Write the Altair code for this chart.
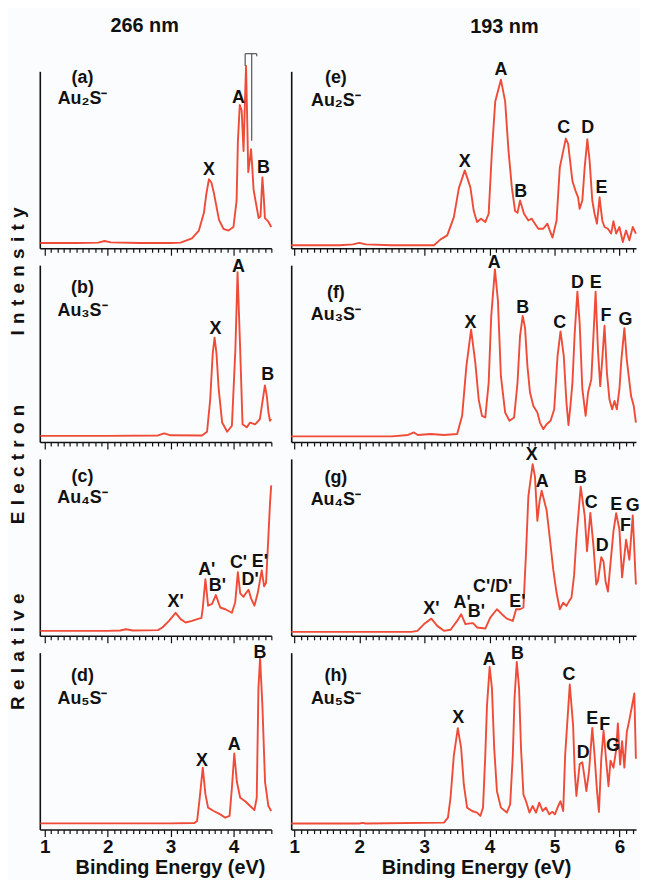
import altair as alt
import pandas as pd

FONT = "Liberation Sans"
LINE_COLOR = "#ef4b37"
INK = "#111111"

# ---------------- spectra (binding energy eV, relative intensity) ----------------
A_E = [0.93, 1.5, 1.85, 1.95, 2.05, 2.5, 3.0, 3.16, 3.34, 3.45, 3.53, 3.57, 3.61, 3.65, 3.69, 3.77, 3.84, 3.92, 4.00, 4.05,
       4.07, 4.10, 4.13, 4.16, 4.18, 4.20, 4.22, 4.235, 4.26, 4.28, 4.30, 4.32, 4.35, 4.40, 4.43, 4.45, 4.46, 4.48, 4.50, 4.555, 4.60]
A_I = [0.03, 0.03, 0.032, 0.041, 0.033, 0.03, 0.03, 0.032, 0.056, 0.10, 0.20, 0.31, 0.39, 0.37, 0.31, 0.16, 0.11, 0.10, 0.12, 0.27,
       0.60, 0.81, 0.78, 0.55, 0.80, 1.03, 0.70, 0.43, 0.50, 0.56, 0.45, 0.33, 0.27, 0.17, 0.18, 0.33, 0.40, 0.30, 0.17, 0.15, 0.12]

B_E = [0.93, 2.0, 2.8, 2.9, 3.0, 3.5, 3.58, 3.63, 3.67, 3.70, 3.73, 3.765, 3.82, 3.90, 3.975, 4.03, 4.065, 4.107, 4.144, 4.21,
       4.265, 4.344, 4.42, 4.47, 4.50, 4.53, 4.555, 4.58, 4.60]
B_I = [0.035, 0.035, 0.037, 0.049, 0.038, 0.037, 0.058, 0.24, 0.50, 0.59, 0.50, 0.30, 0.11, 0.058, 0.092, 0.52, 0.96, 0.52, 0.10, 0.083,
       0.11, 0.10, 0.13, 0.25, 0.32, 0.26, 0.17, 0.12, 0.13]

C_E = [0.93, 2.0, 2.2, 2.29, 2.4, 2.8, 2.87, 2.975, 3.08, 3.16, 3.24, 3.34, 3.45, 3.49, 3.51, 3.554, 3.596, 3.66, 3.72, 3.79,
       3.87, 3.975, 4.028, 4.07, 4.107, 4.16, 4.196, 4.239, 4.281, 4.333, 4.385, 4.449, 4.487, 4.518, 4.555, 4.581, 4.60]
C_I = [0.028, 0.028, 0.03, 0.037, 0.03, 0.032, 0.047, 0.084, 0.13, 0.094, 0.075, 0.084, 0.097, 0.10, 0.15, 0.32, 0.17, 0.18, 0.23, 0.16,
       0.15, 0.13, 0.19, 0.36, 0.24, 0.22, 0.24, 0.26, 0.21, 0.17, 0.24, 0.37, 0.28, 0.30, 0.56, 0.75, 0.85]

D_E = [0.93, 3.0, 3.38, 3.422, 3.464, 3.512, 3.554, 3.596, 3.686, 3.791, 3.87, 3.938, 3.975, 4.013, 4.054, 4.107, 4.186, 4.265,
       4.333, 4.37, 4.397, 4.423, 4.46, 4.502, 4.555, 4.60]
D_I = [0.035, 0.035, 0.037, 0.049, 0.18, 0.35, 0.20, 0.124, 0.105, 0.086, 0.067, 0.077, 0.236, 0.43, 0.27, 0.18, 0.16, 0.133,
       0.11, 0.18, 0.80, 0.97, 0.70, 0.27, 0.133, 0.105]

E_E = [0.955, 1.7, 1.9, 2.0, 2.1, 2.5, 3.148, 3.249, 3.351, 3.453, 3.53, 3.621, 3.707, 3.759, 3.809, 3.87, 3.936, 3.988, 4.038,
       4.089, 4.176, 4.241, 4.293, 4.344, 4.394, 4.431, 4.47, 4.531, 4.598, 4.649, 4.699, 4.751, 4.827, 4.889, 4.928, 4.969,
       5.031, 5.081, 5.173, 5.209, 5.234, 5.275, 5.321, 5.362, 5.386, 5.427, 5.463, 5.504, 5.539, 5.58, 5.615, 5.652, 5.692,
       5.733, 5.768, 5.82, 5.87, 5.905, 5.947, 5.997, 6.049, 6.099, 6.15, 6.202, 6.25]
E_I = [0.017, 0.017, 0.022, 0.03, 0.022, 0.017, 0.017, 0.05, 0.073, 0.176, 0.34, 0.44, 0.344, 0.21, 0.148, 0.167, 0.148, 0.195,
       0.55, 0.83, 0.953, 0.83, 0.55, 0.344, 0.21, 0.20, 0.27, 0.195, 0.157, 0.167, 0.139, 0.11, 0.11, 0.139, 0.10, 0.06,
       0.157, 0.457, 0.62, 0.59, 0.51, 0.38, 0.326, 0.288, 0.223, 0.27, 0.457, 0.616, 0.494, 0.27, 0.195, 0.139, 0.288,
       0.157, 0.12, 0.11, 0.083, 0.153, 0.083, 0.12, 0.035, 0.10, 0.045, 0.12, 0.083]

F_E = [0.955, 2.5, 2.75, 2.84, 2.9, 3.1, 3.3, 3.504, 3.58, 3.646, 3.718, 3.783, 3.835, 3.885, 3.936, 3.988, 4.027, 4.084, 4.13,
       4.176, 4.241, 4.308, 4.379, 4.431, 4.47, 4.511, 4.547, 4.583, 4.623, 4.675, 4.736, 4.776, 4.827, 4.878, 4.939, 4.995,
       5.046, 5.092, 5.142, 5.183, 5.214, 5.244, 5.275, 5.31, 5.351, 5.386, 5.427, 5.478, 5.515, 5.565, 5.6, 5.631, 5.667,
       5.702, 5.733, 5.768, 5.805, 5.844, 5.885, 5.921, 5.957, 5.997, 6.027, 6.073, 6.11, 6.14, 6.176, 6.217, 6.25]
F_I = [0.032, 0.032, 0.04, 0.054, 0.04, 0.045, 0.04, 0.045, 0.148, 0.43, 0.635, 0.448, 0.24, 0.148, 0.139, 0.335, 0.71, 0.976,
       0.80, 0.372, 0.167, 0.12, 0.139, 0.335, 0.60, 0.713, 0.644, 0.43, 0.28, 0.204, 0.167, 0.11, 0.073, 0.10, 0.12, 0.185,
       0.485, 0.625, 0.485, 0.223, 0.096, 0.204, 0.335, 0.616, 0.85, 0.672, 0.30, 0.148, 0.28, 0.354, 0.616, 0.85, 0.52,
       0.316, 0.466, 0.657, 0.39, 0.24, 0.185, 0.232, 0.185, 0.30, 0.466, 0.644, 0.466, 0.372, 0.26, 0.204, 0.11]

G_E = [0.955, 2.8, 2.893, 2.995, 3.107, 3.198, 3.301, 3.402, 3.504, 3.565, 3.631, 3.70, 3.748, 3.809, 3.936, 4.012, 4.115,
       4.191, 4.267, 4.359, 4.409, 4.47, 4.522, 4.562, 4.598, 4.664, 4.699, 4.736, 4.77, 4.802, 4.878, 4.928, 4.98, 5.031,
       5.081, 5.133, 5.183, 5.23, 5.26, 5.30, 5.336, 5.402, 5.463, 5.499, 5.55, 5.6, 5.641, 5.667, 5.718, 5.753, 5.783, 5.82,
       5.855, 5.905, 5.947, 5.997, 6.038, 6.099, 6.15, 6.202, 6.25]
G_I = [0.022, 0.022, 0.028, 0.066, 0.097, 0.056, 0.028, 0.034, 0.084, 0.122, 0.066, 0.07, 0.071, 0.047, 0.041, 0.103, 0.15,
       0.122, 0.097, 0.084, 0.15, 0.15, 0.16, 0.47, 0.79, 0.97, 0.90, 0.65, 0.76, 0.82, 0.71, 0.55, 0.375, 0.243,
       0.15, 0.187, 0.169, 0.20, 0.215, 0.34, 0.55, 0.843, 0.68, 0.478, 0.695, 0.50, 0.29, 0.31, 0.444, 0.42, 0.31, 0.25,
       0.39, 0.59, 0.693, 0.60, 0.33, 0.543, 0.43, 0.68, 0.29]

H_E = [0.955, 2.0, 2.05, 2.1, 3.301, 3.362, 3.402, 3.453, 3.514, 3.565, 3.606, 3.656, 3.733, 3.809, 3.86, 3.901, 3.936, 3.962,
       4.003, 4.038, 4.073, 4.115, 4.176, 4.267, 4.318, 4.359, 4.385, 4.42, 4.455, 4.485, 4.522, 4.562, 4.614, 4.664, 4.715,
       4.766, 4.817, 4.867, 4.919, 4.969, 5.005, 5.056, 5.092, 5.133, 5.163, 5.234, 5.285, 5.31, 5.336, 5.386, 5.427, 5.463,
       5.489, 5.53, 5.58, 5.615, 5.652, 5.682, 5.718, 5.753, 5.794, 5.829, 5.86, 5.905, 5.947, 5.973, 6.008, 6.038, 6.073,
       6.11, 6.15, 6.191, 6.226, 6.25]
H_I = [0.034, 0.034, 0.038, 0.034, 0.039, 0.067, 0.18, 0.42, 0.573, 0.46, 0.255, 0.124, 0.105, 0.096, 0.077, 0.124, 0.42, 0.70,
       0.92, 0.80, 0.46, 0.217, 0.124, 0.096, 0.142, 0.42, 0.74, 0.948, 0.80, 0.46, 0.198, 0.16, 0.096, 0.133, 0.096,
       0.152, 0.105, 0.124, 0.086, 0.10, 0.086, 0.133, 0.16, 0.105, 0.42, 0.82, 0.59, 0.33, 0.19, 0.37, 0.38, 0.29,
       0.217, 0.33, 0.575, 0.42, 0.22, 0.10, 0.40, 0.56, 0.386, 0.245, 0.39, 0.35, 0.45, 0.60, 0.367, 0.50, 0.35,
       0.55, 0.62, 0.70, 0.77, 0.40]

# ---------------- peak labels ----------------
A_LAB = ["X", "A", "B"]; A_LE = [3.61, 4.08, 4.475]; A_LI = [0.44, 0.85, 0.455]
B_LAB = ["X", "A", "B"]; B_LE = [3.712, 4.08, 4.544]; B_LI = [0.64, 0.99, 0.376]
C_LAB = ["X'", "A'", "B'", "C'", "D'", "E'"]
C_LE = [3.08, 3.575, 3.745, 4.08, 4.265, 4.42]; C_LI = [0.19, 0.372, 0.28, 0.41, 0.315, 0.416]
D_LAB = ["X", "A", "B"]; D_LE = [3.50, 4.013, 4.423]; D_LI = [0.386, 0.48, 1.0]
E_LAB = ["X", "A", "B", "C", "D", "E"]
E_LE = [3.62, 4.176, 4.48, 5.14, 5.51, 5.72]; E_LI = [0.485, 1.01, 0.32, 0.68, 0.68, 0.34]
F_LAB = ["X", "A", "B", "C", "D", "E", "F", "G"]
F_LE = [3.707, 4.074, 4.511, 5.08, 5.351, 5.631, 5.79, 6.09]; F_LI = [0.67, 1.01, 0.76, 0.67, 0.90, 0.90, 0.71, 0.69]
G_LAB = ["X'", "A'", "B'", "C'/D'", "E'", "X", "A", "B", "C", "D", "E", "F", "G"]
G_LE = [3.107, 3.58, 3.80, 4.05, 4.43, 4.65, 4.81, 5.397, 5.565, 5.733, 5.947, 6.09, 6.20]
G_LI = [0.15, 0.187, 0.135, 0.275, 0.19, 1.02, 0.87, 0.89, 0.75, 0.506, 0.74, 0.62, 0.735]
H_LAB = ["X", "A", "B", "C", "D", "E", "F", "G"]
H_LE = [3.519, 3.997, 4.43, 5.22, 5.44, 5.58, 5.77, 5.896]; H_LI = [0.63, 0.957, 0.994, 0.876, 0.43, 0.625, 0.59, 0.47]

# ---------------- panel tags ----------------
TAGS = ["(a)", "(b)", "(c)", "(d)", "(e)", "(f)", "(g)", "(h)"]
FORMULAS = ["Au\u2082S\u207b", "Au\u2083S\u207b", "Au\u2084S\u207b", "Au\u2085S\u207b",
            "Au\u2082S\u207b", "Au\u2083S\u207b", "Au\u2084S\u207b", "Au\u2085S\u207b"]
TAG_E = [1.60, 1.60, 1.60, 1.60, 1.64, 1.64, 1.64, 1.64]
TAG_I1 = [0.96, 0.87, 0.90, 0.87, 0.962, 0.84, 0.89, 0.87]
TAG_I2 = [0.843, 0.74, 0.777, 0.74, 0.835, 0.72, 0.768, 0.74]

# vibrational progression bracket in (a)
BR_E = [4.186, 4.186, 4.29, 4.37]
BR_E2 = [4.37, 4.186, 4.29, 4.37]
BR_I = [1.10, 1.10, 1.10, 1.10]
BR_I2 = [1.10, 1.03, 0.607, 1.085]

LEFT_DOMAIN = [0.921, 4.602]
RIGHT_DOMAIN = [0.954, 6.252]
LEFT_TICKS = [round(1 + 0.1 * i, 1) for i in range(37)]
RIGHT_TICKS = [round(1 + 0.1 * i, 1) for i in range(53)]
PANEL_H = 178
MAJOR = "abs(datum.value - round(datum.value)) < 0.01"


def make_panel(idx, E, I, lab, lE, lI, side, bottom, bracket=False, col_title=None):
    if side == "L":
        domain, ticks, width, title_x = LEFT_DOMAIN, LEFT_TICKS, 233, 131
    else:
        domain, ticks, width, title_x = RIGHT_DOMAIN, RIGHT_TICKS, 347, 186
    axis_kw = dict(
        values=ticks,
        tickSize={"condition": {"test": MAJOR, "value": 7}, "value": 4},
        tickColor=INK, tickWidth=1.2, domainColor=INK, domainWidth=1.6,
        grid=False, labels=bottom, labelOverlap=False, labelFlush=False,
        labelExpr=MAJOR + " ? format(datum.value, '.0f') : ''",
        labelFont=FONT, labelFontSize=19, labelFontWeight="bold", labelColor=INK, labelPadding=1,
        titleFont=FONT, titleFontSize=20, titleFontWeight="bold", titleColor=INK,
        titleX=title_x, titlePadding=1,
    )
    x = alt.X("E:Q", scale=alt.Scale(domain=domain, nice=False, zero=False),
              axis=alt.Axis(**axis_kw), title="Binding Energy (eV)" if bottom else None)
    y = alt.Y("I:Q", scale=alt.Scale(domain=[0, 1], nice=False, zero=False),
              axis=alt.Axis(labels=False, ticks=False, grid=False, domainColor=INK, domainWidth=1.6),
              title=None)

    line = alt.Chart(pd.DataFrame({"E": E, "I": I})).mark_line(
        color=LINE_COLOR, strokeWidth=1.9, strokeJoin="round").encode(x=x, y=y)
    peaks = alt.Chart(pd.DataFrame({"E": lE, "I": lI, "t": lab})).mark_text(
        font=FONT, fontSize=18, fontWeight="bold", color=INK, align="center", baseline="middle"
    ).encode(x=x, y=y, text="t:N")
    tags = alt.Chart(pd.DataFrame({"E": [TAG_E[idx], TAG_E[idx]],
                                   "I": [TAG_I1[idx], TAG_I2[idx]],
                                   "t": [TAGS[idx], FORMULAS[idx]]})).mark_text(
        font=FONT, fontSize=18, fontWeight="bold", color=INK, align="center", baseline="middle"
    ).encode(x=x, y=y, text="t:N")
    layers = [line, peaks, tags]
    if bracket:
        br = alt.Chart(pd.DataFrame({"E": BR_E, "E2": BR_E2, "I": BR_I, "I2": BR_I2})).mark_rule(
            color="#555555", strokeWidth=1.2).encode(x=x, x2="E2:Q", y=y, y2="I2:Q")
        layers.append(br)
    props = dict(width=width, height=PANEL_H)
    if col_title is not None:
        props["title"] = col_title
    return alt.layer(*layers).properties(**props)


ct = dict(font=FONT, fontSize=20, fontWeight="bold", color=INK, anchor="middle", frame="group")
pa = make_panel(0, A_E, A_I, A_LAB, A_LE, A_LI, "L", False, bracket=True,
                col_title=alt.TitleParams("266 nm", dx=-11, offset=17, **ct))
pb = make_panel(1, B_E, B_I, B_LAB, B_LE, B_LI, "L", False)
pc = make_panel(2, C_E, C_I, C_LAB, C_LE, C_LI, "L", False)
pd_ = make_panel(3, D_E, D_I, D_LAB, D_LE, D_LI, "L", True)
pe = make_panel(4, E_E, E_I, E_LAB, E_LE, E_LI, "R", False,
                col_title=alt.TitleParams("193 nm", dx=41, offset=24, **ct))
pf = make_panel(5, F_E, F_I, F_LAB, F_LE, F_LI, "R", False)
pg = make_panel(6, G_E, G_I, G_LAB, G_LE, G_LI, "R", False)
ph = make_panel(7, H_E, H_I, H_LAB, H_LE, H_LI, "R", True)

SP = "\u2004"
WORD = "\u2003\u2003\u2003\u2004\u2004"
YTITLE = WORD.join(SP.join(list(w)) for w in ["Relative", "Electron", "Intensity"])

chart = alt.concat(pa, pe, pb, pf, pc, pg, pd_, ph, columns=2,
                   spacing={"row": 17, "column": 20}, bounds="flush",
                   title=alt.TitleParams(YTITLE, orient="left", anchor="middle", font=FONT, fontSize=19,
                                         fontWeight="bold", color=INK, offset=12, dx=-12)
                   ).properties(
    padding={"left": 0, "top": 5, "right": 0, "bottom": 0},
    background="#fbfcfe",
).configure_view(strokeWidth=0)

chart.save("out.html", embed_options={"renderer": "svg", "actions": False})
